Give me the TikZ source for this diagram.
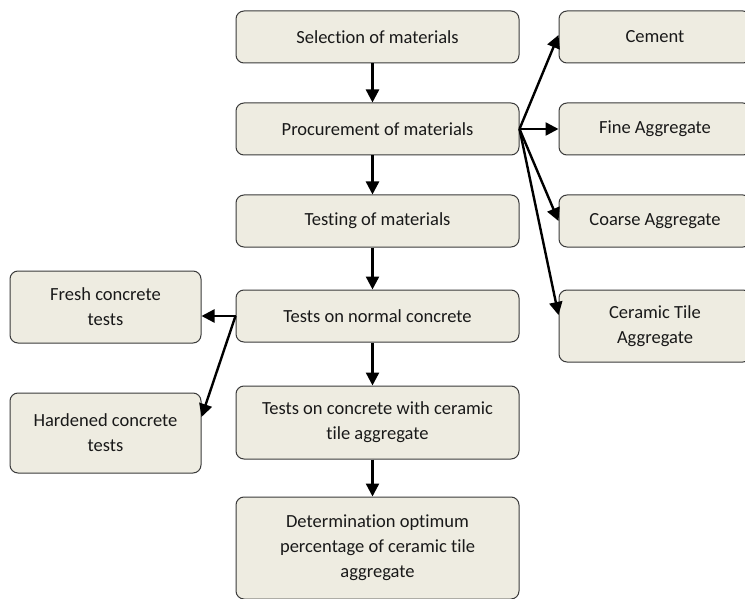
\documentclass[tikz,border=0pt]{standalone}
\usepackage{fontspec}
\setmainfont{Carlito}[Ligatures=NoCommon]
\usetikzlibrary{arrows.meta}
\definecolor{boxfill}{HTML}{EEECE1}
\definecolor{boxline}{HTML}{3A3A3A}
\begin{document}
\begin{tikzpicture}[x=1pt,y=-1pt,
  box/.style={draw=boxline,fill=boxfill,line width=1pt,rounded corners=8pt,
    align=center,font=\fontsize{18.5}{25}\selectfont,inner sep=2pt,text=black!90},
  conn/.style={line width=2.4pt,-{Triangle[length=13pt,width=13pt]}}]
\useasboundingbox (0,0) rectangle (745,599);
\begin{scope}
\clip (0,0) rectangle (745,599);
\node[box,minimum width=283pt,minimum height=52pt] (sel) at (377.5,37) {Selection of materials};
\node[box,minimum width=283pt,minimum height=52pt] (proc) at (377.5,129) {Procurement of materials};
\node[box,minimum width=283pt,minimum height=52pt] (test) at (377.5,221) {Testing of materials};
\node[box,minimum width=283pt,minimum height=52pt] (norm) at (377.5,316) {Tests on normal concrete};
\node[box,minimum width=283pt,minimum height=73pt] (cer) at (377.5,422.5) {Tests on concrete with ceramic\\tile aggregate};
\node[box,minimum width=283pt,minimum height=102pt] (det) at (377.5,548) {Determination optimum\\percentage of ceramic tile\\aggregate};
\node[box,minimum width=192pt,minimum height=52pt] (cem) at (655,37) {Cement};
\node[box,minimum width=192pt,minimum height=52pt] (fine) at (655,129) {Fine Aggregate};
\node[box,minimum width=192pt,minimum height=52pt] (coarse) at (655,221) {Coarse Aggregate};
\node[box,minimum width=192pt,minimum height=72pt] (ctile) at (655,326) {Ceramic Tile\\Aggregate};
\node[box,minimum width=191pt,minimum height=72pt] (fresh) at (105.5,307) {Fresh concrete\\tests};
\node[box,minimum width=191pt,minimum height=80pt] (hard) at (105.5,433) {Hardened concrete\\tests};
\end{scope}
\draw[conn] ([xshift=-5pt]sel.south) -- ([xshift=-5pt]proc.north);
\draw[conn] ([xshift=-5pt]proc.south) -- ([xshift=-5pt]test.north);
\draw[conn] ([xshift=-5pt]test.south) -- ([xshift=-5pt]norm.north);
\draw[conn] ([xshift=-5pt]norm.south) -- ([xshift=-5pt]cer.north);
\draw[conn] ([xshift=-5pt]cer.south) -- ([xshift=-5pt]det.north);
\draw[conn] (proc.east) -- ([yshift=2pt]cem.west);
\draw[conn] (proc.east) -- (fine.west);
\draw[conn] (proc.east) -- (coarse.west);
\draw[conn] (proc.east) -- ([yshift=11pt]ctile.west);
\draw[conn] (norm.west) -- ([yshift=-9pt]fresh.east);
\draw[conn] (norm.west) -- ([yshift=16pt]hard.east);
\end{tikzpicture}
\end{document}
